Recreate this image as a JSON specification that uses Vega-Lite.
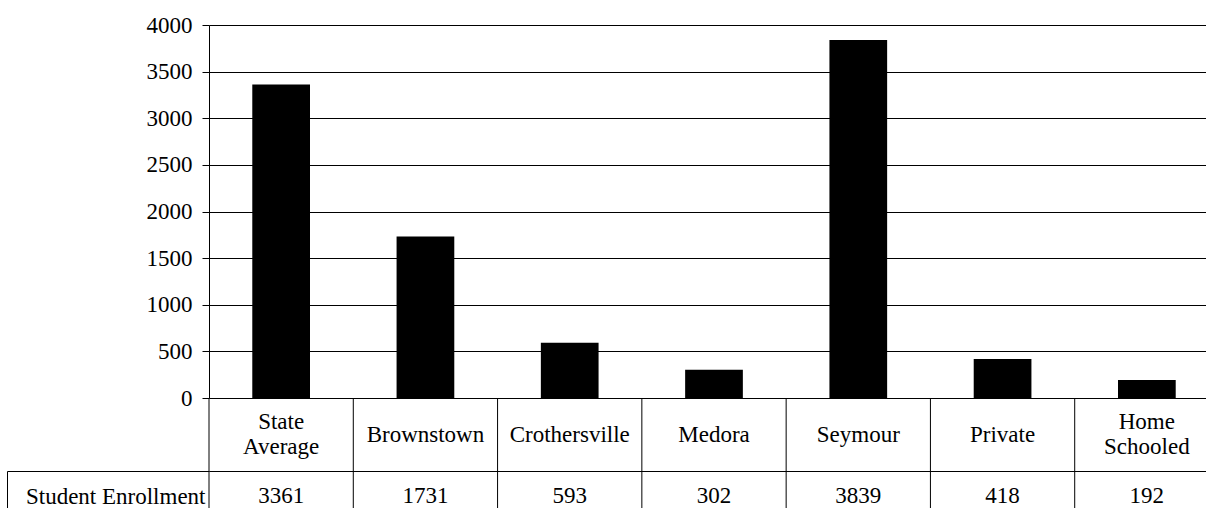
{
  "$schema": "https://vega.github.io/schema/vega-lite/v6.json",
  "padding": {"top": 14, "left": 6, "right": 0, "bottom": 0},
  "background": "white",
  "config": {
    "view": {"stroke": null},
    "font": "Liberation Serif",
    "text": {"font": "Liberation Serif", "fontSize": 23, "color": "black"}
  },
  "datasets": {
    "enrollment": [
      {"school": "State Average", "label": "State\nAverage", "students": 3361},
      {"school": "Brownstown", "label": "Brownstown", "students": 1731},
      {"school": "Crothersville", "label": "Crothersville", "students": 593},
      {"school": "Medora", "label": "Medora", "students": 302},
      {"school": "Seymour", "label": "Seymour", "students": 3839},
      {"school": "Private", "label": "Private", "students": 418},
      {"school": "Home Schooled", "label": "Home\nSchooled", "students": 192}
    ]
  },
  "bounds": "flush",
  "spacing": 0,
  "resolve": {"scale": {"x": "independent", "y": "independent"}},
  "vconcat": [
    {
      "width": 1010,
      "height": 373,
      "data": {"name": "enrollment"},
      "mark": {"type": "bar", "color": "black", "width": {"band": 0.4}},
      "encoding": {
        "x": {
          "field": "school", "type": "nominal", "sort": null,
          "scale": {"paddingInner": 0, "paddingOuter": 0},
          "axis": null
        },
        "y": {
          "field": "students", "type": "quantitative",
          "scale": {"domain": [0, 4000], "nice": false},
          "axis": {
            "title": null, "format": "d",
            "values": [0, 500, 1000, 1500, 2000, 2500, 3000, 3500, 4000],
            "grid": true, "gridColor": "black", "gridOpacity": 1, "gridWidth": 1,
            "domainColor": "black", "domainWidth": 1,
            "tickColor": "black", "tickSize": 7, "tickWidth": 1,
            "labelPadding": 10, "labelFont": "Liberation Serif", "labelFontSize": 23,
            "labelColor": "black", "zindex": 0
          }
        }
      }
    },
    {
      "width": 1010,
      "height": 73,
      "data": {"name": "enrollment"},
      "encoding": {
        "x": {
          "field": "school", "type": "nominal", "sort": null,
          "scale": {"paddingInner": 0, "paddingOuter": 0},
          "axis": null
        }
      },
      "layer": [
        {
          "mark": {"type": "rule", "color": "black", "strokeWidth": 1},
          "encoding": {
            "x": {"field": "school", "type": "nominal", "sort": null, "bandPosition": 0}
          }
        },
        {
          "transform": [{"filter": "indexof(datum.label, '\\n') < 0"}],
          "mark": {"type": "text", "baseline": "middle", "align": "center"},
          "encoding": {"text": {"field": "label"}}
        },
        {
          "transform": [{"filter": "indexof(datum.label, '\\n') >= 0"}],
          "mark": {"type": "text", "lineBreak": "\n", "lineHeight": 25, "baseline": "middle", "align": "center", "dy": -12.5},
          "encoding": {"text": {"field": "label"}}
        }
      ]
    },
    {
      "width": 1010,
      "height": 50,
      "data": {"name": "enrollment"},
      "encoding": {
        "x": {
          "field": "school", "type": "nominal", "sort": null,
          "scale": {"paddingInner": 0, "paddingOuter": 0},
          "axis": null
        }
      },
      "layer": [
        {
          "mark": {"type": "rule", "color": "black", "strokeWidth": 1},
          "encoding": {
            "x": {"field": "school", "type": "nominal", "sort": null, "bandPosition": 0}
          }
        },
        {
          "mark": {"type": "text", "baseline": "middle", "align": "center"},
          "encoding": {
            "y": {
              "datum": "Student Enrollment", "type": "nominal",
              "scale": {"type": "band", "paddingInner": 0, "paddingOuter": 0},
              "axis": {
                "title": null, "orient": "left",
                "offset": 202, "tickSize": -202, "tickBand": "extent",
                "grid": true, "gridColor": "black", "gridOpacity": 1,
                "domainColor": "black", "tickColor": "black",
                "labelPadding": 4, "labelAlign": "right", "labelBaseline": "middle",
                "labelFont": "Liberation Serif", "labelFontSize": 23, "labelColor": "black"
              }
            },
            "text": {"field": "students", "type": "quantitative", "format": "d"}
          }
        }
      ]
    }
  ]
}
